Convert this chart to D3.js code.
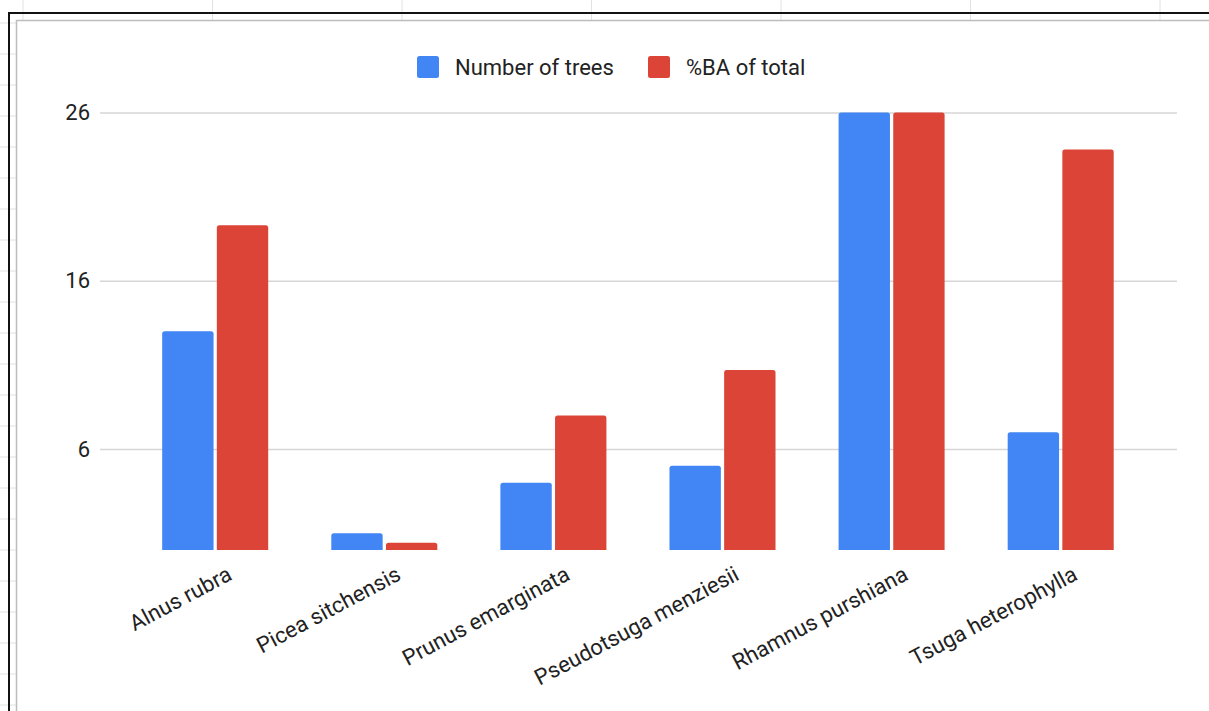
<!DOCTYPE html>
<html>
<head>
<meta charset="utf-8">
<script src="https://cdn.jsdelivr.net/npm/d3@7"></script>
<style>
  html, body { margin: 0; padding: 0; background: #fff; }
  svg { display: block; font-family: Roboto, "Noto Sans", sans-serif; }
</style>
</head>
<body>
<svg id="chart" width="1209" height="711"></svg>
<script>
// ---- data ----
const categories = ["Alnus rubra", "Picea sitchensis", "Prunus emarginata", "Pseudotsuga menziesii", "Rhamnus purshiana", "Tsuga heterophylla"];
const seriesNames = ["Number of trees", "%BA of total"];
const numberOfTrees = [13, 1, 4, 5, 26, 7];
const baOfTotal = [19.3, 0.43, 8, 10.7, 26, 23.8];
const yTicks = [6, 16, 26];
const colors = ["#4285F4", "#DB4437"];

const svg = d3.select("#chart");
const W = 1209, H = 711;

// ---- spreadsheet background decoration ----
const deco = svg.append("g");
const colLines = d3.range(7).map(i => 23 + i * 189.5);
const rowLines = d3.range(23).map(i => 23 + i * 31);
deco.selectAll(".col").data(colLines).join("line")
  .attr("x1", d => d).attr("x2", d => d).attr("y1", 0).attr("y2", 21)
  .attr("stroke", "#e2e2e2").attr("stroke-width", 1);
deco.selectAll(".row").data(rowLines).join("line")
  .attr("x1", 0).attr("x2", 16).attr("y1", d => d).attr("y2", d => d)
  .attr("stroke", "#e2e2e2").attr("stroke-width", 1);
// chart frame (grey)
deco.append("path").attr("d", `M16.5,${H} V20.5 H${W}`)
  .attr("fill", "none").attr("stroke", "#bdbdbd").attr("stroke-width", 1.5);
// black selection border
deco.append("path").attr("d", `M9,${H} V13 H${W}`)
  .attr("fill", "none").attr("stroke", "#111").attr("stroke-width", 2);

// ---- scales ----
const y = d3.scaleLinear().domain([0, 26]).range([550, 112.5]);
const x = d3.scaleBand().domain(categories).range([130.65, 1145.25])
  .paddingInner(0.373).paddingOuter(0.1865);
const xs = d3.scaleBand().domain(seriesNames).range([0, x.bandwidth()]).paddingInner(0.06);
const color = d3.scaleOrdinal().domain(seriesNames).range(colors);

// ---- gridlines + y labels ----
const yAxis = d3.axisLeft(y).tickValues(yTicks).tickSize(-(1177 - 100)).tickPadding(10);
const gy = svg.append("g").attr("transform", "translate(100,0)").call(yAxis);
gy.select(".domain").remove();
gy.selectAll(".tick line").attr("stroke", "#d6d6d6").attr("stroke-width", 1.5);
gy.selectAll(".tick text").attr("font-size", 22).attr("fill", "#222")
  .attr("font-family", "Roboto, sans-serif");

// ---- bars ----
const rows = categories.map((c, i) => ({ cat: c, vals: [numberOfTrees[i], baOfTotal[i]] }));
function topRounded(x0, y0, w, h, r) {
  r = Math.min(r, h / 2, w / 2);
  return `M${x0},${y0 + h} V${y0 + r} Q${x0},${y0} ${x0 + r},${y0} H${x0 + w - r} Q${x0 + w},${y0} ${x0 + w},${y0 + r} V${y0 + h} Z`;
}
const groups = svg.append("g").selectAll("g").data(rows).join("g")
  .attr("transform", d => `translate(${x(d.cat)},0)`);
groups.selectAll("path").data(d => d.vals.map((v, j) => ({ s: seriesNames[j], v })))
  .join("path")
  .attr("d", d => topRounded(xs(d.s), y(d.v), xs.bandwidth(), y(0) - y(d.v), 2.5))
  .attr("fill", d => color(d.s));

// ---- x labels ----
const xAxis = d3.axisBottom(x).tickSize(0).tickPadding(0);
const gx = svg.append("g").attr("transform", "translate(0,0)").call(xAxis);
gx.select(".domain").remove();
gx.selectAll(".tick").attr("transform", d => `translate(${x(d) + x.bandwidth() / 2 + 18},579)`);
gx.selectAll(".tick text")
  .attr("x", 0).attr("y", 0).attr("dy", null)
  .attr("text-anchor", "end")
  .attr("transform", "rotate(-28)")
  .attr("font-size", 22).attr("fill", "#222")
  .attr("font-family", "Roboto, sans-serif");

// ---- legend ----
const legendX = [417, 648];
const lg = svg.append("g").selectAll("g").data(seriesNames).join("g")
  .attr("transform", (d, i) => `translate(${legendX[i]},56)`);
lg.append("rect").attr("width", 22).attr("height", 22).attr("rx", 2.5)
  .attr("fill", d => color(d));
lg.append("text").attr("x", 38).attr("y", 19)
  .attr("font-size", 22).attr("fill", "#222").text(d => d);
</script>
</body>
</html>
